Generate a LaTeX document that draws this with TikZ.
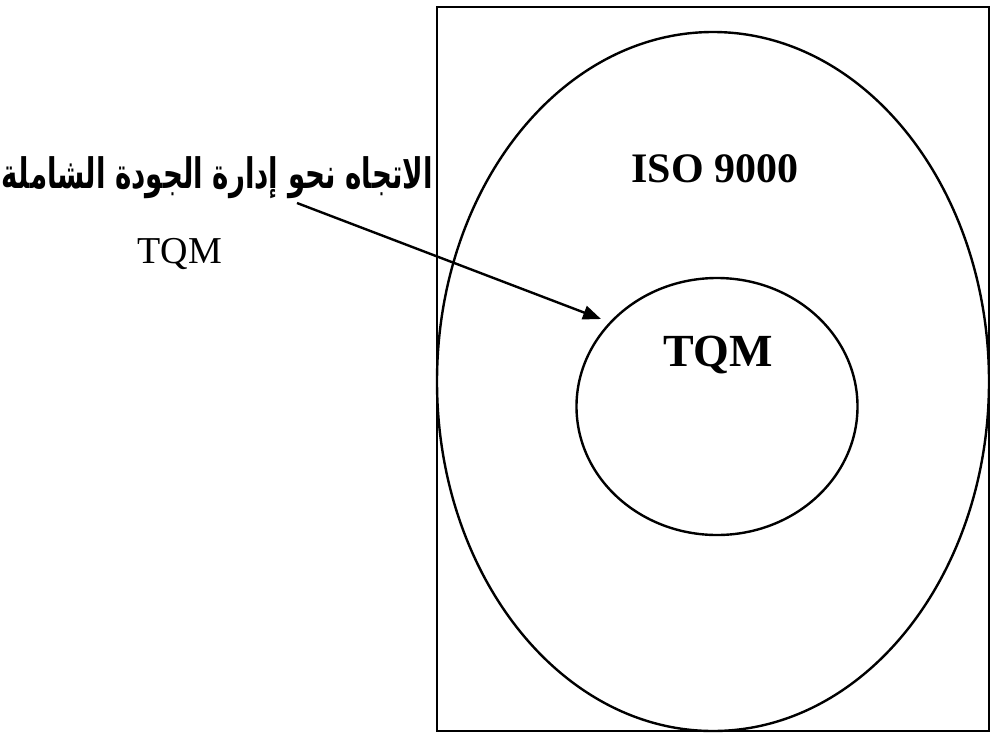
\documentclass[tikz,border=0pt]{standalone}
\usepackage{fontspec}
\setmainfont{Liberation Serif}
\newfontfamily\arabicfont[Script=Arabic]{DejaVu Sans}
\TeXXeTstate=1
\usetikzlibrary{arrows.meta,shapes.geometric}
\begin{document}
\begin{tikzpicture}[x=1pt,y=-1pt,
  frame/.style={draw=black, line width=2.4pt},
  ring/.style={ellipse, draw=black, line width=2.4pt, inner sep=0pt},
  pointer/.style={draw=black, line width=2.4pt, -{Triangle[length=18pt,width=14pt]}}]
\useasboundingbox (0,0) rectangle (990,734);
\fill[white] (0,0) rectangle (990,734);
\draw[frame] (437,7) rectangle (989,731);
\node[ring, minimum width=552pt, minimum height=699pt] (outer) at (713,381.5) {};
\node[ring, minimum width=281pt, minimum height=257pt] (inner) at (717,406.5) {};
\node[anchor=base] (iso) at (715,182) {\fontsize{42}{48}\selectfont\bfseries ISO 9000};
\node[anchor=base] (tqmin) at (718,366) {\fontsize{46}{52}\selectfont\bfseries TQM};
\node[anchor=base east, inner sep=0pt] (ar) at (433,188) {\scalebox{0.66}[1]{\arabicfont\fontsize{42}{48}\selectfont\bfseries\beginR الاتجاه نحو إدارة الجودة الشاملة\endR}};
\node[anchor=base] (tqm) at (180,263) {\fontsize{38}{44}\selectfont TQM};
\coordinate (arrS) at (297,203);
\coordinate (arrE) at (601,319);
\draw[pointer] (arrS) -- (arrE);
\end{tikzpicture}
\end{document}
